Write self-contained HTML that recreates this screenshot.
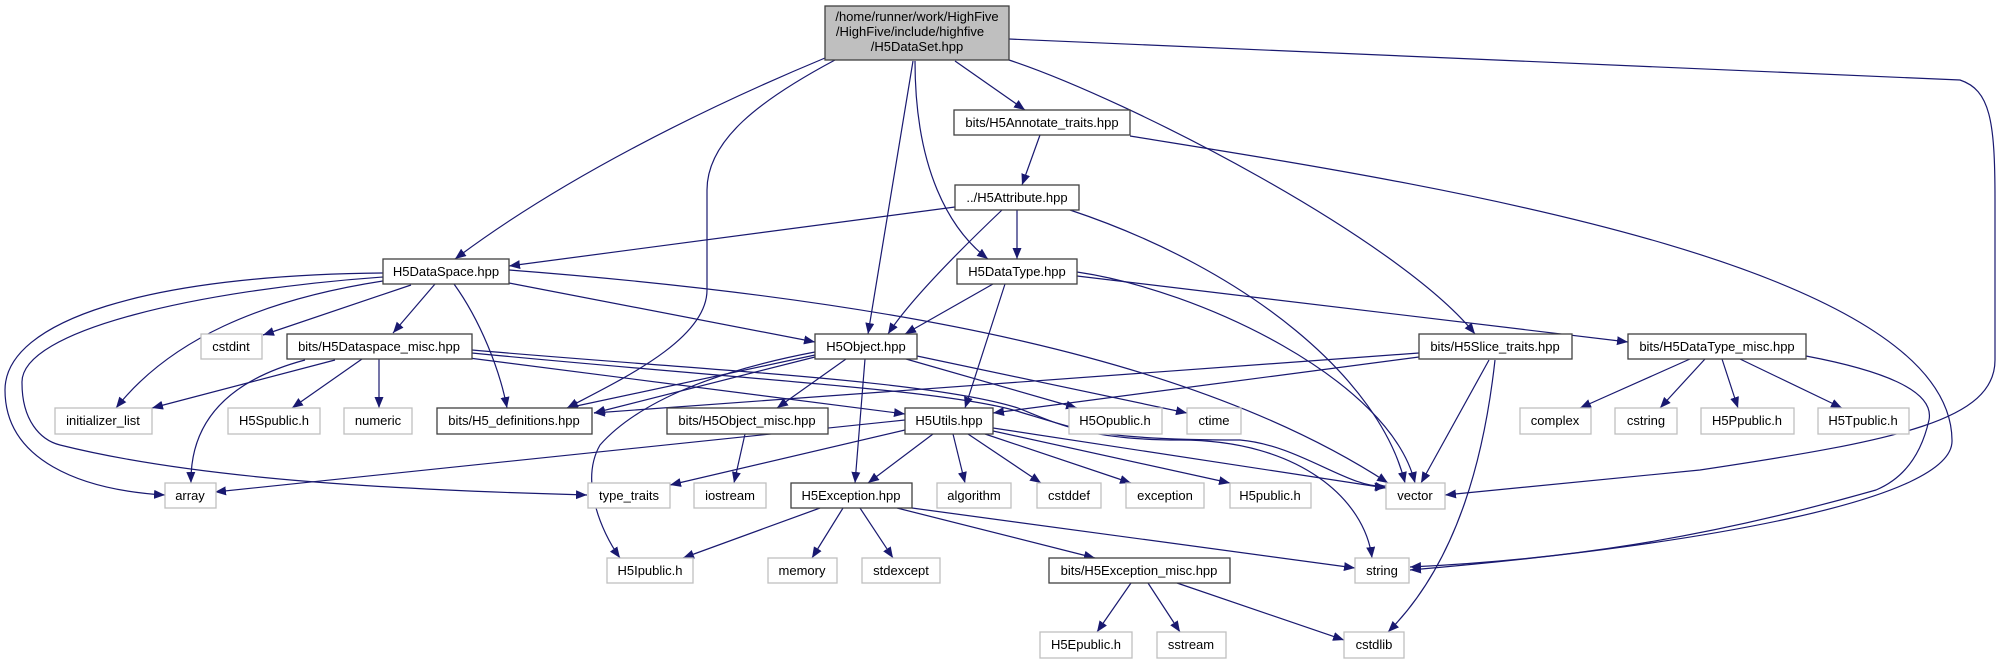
<!DOCTYPE html>
<html><head><meta charset="utf-8"><style>
html,body{margin:0;padding:0;background:#fff;}
svg{display:block;}
text{font-family:"Liberation Sans",Arial,sans-serif;font-size:13px;fill:#000;text-anchor:middle;}
.e{fill:none;stroke:#191970;stroke-width:1.2;marker-end:url(#a);}
.b{fill:#fff;stroke:#404040;stroke-width:1.3;}
.g{fill:#fff;stroke:#bfbfbf;stroke-width:1.3;}
</style></head><body>
<svg width="2002" height="664" viewBox="0 0 2002 664" xmlns="http://www.w3.org/2000/svg">
<defs><marker id="a" markerUnits="userSpaceOnUse" markerWidth="12" markerHeight="10" refX="11" refY="4.5" orient="auto"><path d="M0,0 L11,4.5 L0,9 Z" fill="#191970"/></marker></defs>
<!-- edges -->
<path class="e" d="M825,58 C700,110 560,180 455,259"/>
<path class="e" d="M835,60 C760,100 707,140 707,190 L707,290 C707,340 620,380 567,408"/>
<path class="e" d="M913,61 L868,334"/>
<path class="e" d="M915,61 C915,170 950,230 988,259"/>
<path class="e" d="M955,61 L1025,110"/>
<path class="e" d="M1009,60 C1130,100 1400,240 1475,334"/>
<path class="e" d="M1009,39 L1960,80 C1990,90 1995,120 1995,200 L1995,360 C1995,420 1900,440 1700,470 L1445,495"/>
<path class="e" d="M1040,135 L1022,185"/>
<path class="e" d="M1130,136 C1400,180 1950,260 1952,440 C1955,500 1700,545 1410,570"/>
<path class="e" d="M955,207 L509,266"/>
<path class="e" d="M1017,210 L1017,259"/>
<path class="e" d="M1002,210 C960,250 910,300 888,334"/>
<path class="e" d="M1070,210 C1250,270 1380,380 1405,483"/>
<path class="e" d="M993,284 L905,334"/>
<path class="e" d="M1005,284 L965,408"/>
<path class="e" d="M1077,272 C1200,290 1390,380 1415,483"/>
<path class="e" d="M1077,276 L1628,342"/>
<path class="e" d="M509,283 L815,342"/>
<path class="e" d="M509,270 C900,300 1200,360 1388,483"/>
<path class="e" d="M454,284 C480,320 500,370 507,408"/>
<path class="e" d="M435,284 L393,333"/>
<path class="e" d="M411,285 L263,335"/>
<path class="e" d="M383,281 C260,300 170,340 116,408"/>
<path class="e" d="M383,277 C200,290 20,330 22,383 C22,420 40,440 60,445 C200,480 400,490 587,495"/>
<path class="e" d="M383,273 C150,275 5,320 5,390 C5,460 80,490 165,495"/>
<path class="e" d="M335,360 L152,408"/>
<path class="e" d="M305,360 C230,380 190,420 191,483"/>
<path class="e" d="M362,359 L292,408"/>
<path class="e" d="M379,359 L379,408"/>
<path class="e" d="M469,358 L905,414"/>
<path class="e" d="M472,353 C750,380 950,390 1020,412 C1080,430 1100,440 1240,440 C1300,445 1350,490 1386,486"/>
<path class="e" d="M472,350 C700,370 930,380 1018,408 C1060,425 1090,440 1180,440 C1300,440 1365,500 1372,558"/>
<path class="e" d="M815,355 L567,408"/>
<path class="e" d="M815,357 L594,413"/>
<path class="e" d="M846,359 L777,408"/>
<path class="e" d="M865,359 L855,483"/>
<path class="e" d="M906,359 L1077,408"/>
<path class="e" d="M917,356 L1187,413"/>
<path class="e" d="M815,352 C720,370 640,400 600,445 C580,480 600,530 620,558"/>
<path class="e" d="M1419,353 L594,413"/>
<path class="e" d="M1419,357 L993,413"/>
<path class="e" d="M1489,360 L1421,483"/>
<path class="e" d="M1495,360 C1485,450 1460,560 1388,632"/>
<path class="e" d="M1690,359 L1580,408"/>
<path class="e" d="M1705,359 L1660,408"/>
<path class="e" d="M1722,359 L1738,408"/>
<path class="e" d="M1740,359 L1842,408"/>
<path class="e" d="M1806,356 C1880,370 1935,390 1929,420 C1920,460 1900,480 1876,490 C1700,540 1560,560 1410,567"/>
<path class="e" d="M905,420 L215,492"/>
<path class="e" d="M905,430 L670,485"/>
<path class="e" d="M933,434 L868,483"/>
<path class="e" d="M953,434 L965,483"/>
<path class="e" d="M968,434 L1041,483"/>
<path class="e" d="M985,434 L1131,483"/>
<path class="e" d="M993,431 L1230,483"/>
<path class="e" d="M993,428 L1386,488"/>
<path class="e" d="M745,434 L734,483"/>
<path class="e" d="M820,508 L683,558"/>
<path class="e" d="M843,508 L812,558"/>
<path class="e" d="M860,508 L893,558"/>
<path class="e" d="M897,508 L1095,558"/>
<path class="e" d="M912,508 L1355,568"/>
<path class="e" d="M1131,583 L1097,632"/>
<path class="e" d="M1148,583 L1180,632"/>
<path class="e" d="M1177,583 L1344,640"/>
<!-- nodes -->
<rect x="825" y="6" width="184" height="54" fill="#bfbfbf" stroke="#404040" stroke-width="1.3"/>
<text x="917" y="21">/home/runner/work/HighFive</text>
<text x="910" y="36">/HighFive/include/highfive</text>
<text x="917" y="51">/H5DataSet.hpp</text>
<rect class="b" x="954" y="110" width="176" height="25"/><text x="1042" y="127">bits/H5Annotate_traits.hpp</text>
<rect class="b" x="955" y="185" width="124" height="25"/><text x="1017" y="202">../H5Attribute.hpp</text>
<rect class="b" x="957" y="259" width="120" height="25"/><text x="1017" y="276">H5DataType.hpp</text>
<rect class="b" x="383" y="259" width="126" height="25"/><text x="446" y="276">H5DataSpace.hpp</text>
<rect class="g" x="201" y="334" width="61" height="25"/><text x="231" y="351">cstdint</text>
<rect class="b" x="287" y="334" width="185" height="25"/><text x="379" y="351">bits/H5Dataspace_misc.hpp</text>
<rect class="b" x="815" y="334" width="102" height="25"/><text x="866" y="351">H5Object.hpp</text>
<rect class="b" x="1419" y="334" width="153" height="25"/><text x="1495" y="351">bits/H5Slice_traits.hpp</text>
<rect class="b" x="1628" y="334" width="178" height="25"/><text x="1717" y="351">bits/H5DataType_misc.hpp</text>
<rect class="g" x="55" y="408" width="97" height="26"/><text x="103" y="425">initializer_list</text>
<rect class="g" x="228" y="408" width="92" height="26"/><text x="274" y="425">H5Spublic.h</text>
<rect class="g" x="344" y="408" width="68" height="26"/><text x="378" y="425">numeric</text>
<rect class="b" x="437" y="408" width="155" height="26"/><text x="514" y="425">bits/H5_definitions.hpp</text>
<rect class="b" x="667" y="408" width="161" height="26"/><text x="747" y="425">bits/H5Object_misc.hpp</text>
<rect class="b" x="905" y="408" width="88" height="26"/><text x="949" y="425">H5Utils.hpp</text>
<rect class="g" x="1069" y="408" width="93" height="26"/><text x="1115" y="425">H5Opublic.h</text>
<rect class="g" x="1187" y="408" width="54" height="26"/><text x="1214" y="425">ctime</text>
<rect class="g" x="1520" y="408" width="71" height="26"/><text x="1555" y="425">complex</text>
<rect class="g" x="1615" y="408" width="62" height="26"/><text x="1646" y="425">cstring</text>
<rect class="g" x="1701" y="408" width="93" height="26"/><text x="1747" y="425">H5Ppublic.h</text>
<rect class="g" x="1818" y="408" width="91" height="26"/><text x="1863" y="425">H5Tpublic.h</text>
<rect class="g" x="165" y="483" width="51" height="25"/><text x="190" y="500">array</text>
<rect class="g" x="588" y="483" width="82" height="25"/><text x="629" y="500">type_traits</text>
<rect class="g" x="694" y="483" width="72" height="25"/><text x="730" y="500">iostream</text>
<rect class="b" x="791" y="483" width="121" height="25"/><text x="851" y="500">H5Exception.hpp</text>
<rect class="g" x="937" y="483" width="74" height="25"/><text x="974" y="500">algorithm</text>
<rect class="g" x="1037" y="483" width="64" height="25"/><text x="1069" y="500">cstddef</text>
<rect class="g" x="1126" y="483" width="78" height="25"/><text x="1165" y="500">exception</text>
<rect class="g" x="1230" y="483" width="81" height="25"/><text x="1270" y="500">H5public.h</text>
<rect class="g" x="1386" y="483" width="59" height="26"/><text x="1415" y="500">vector</text>
<rect class="g" x="607" y="558" width="86" height="25"/><text x="650" y="575">H5Ipublic.h</text>
<rect class="g" x="768" y="558" width="69" height="25"/><text x="802" y="575">memory</text>
<rect class="g" x="862" y="558" width="78" height="25"/><text x="901" y="575">stdexcept</text>
<rect class="b" x="1049" y="558" width="181" height="25"/><text x="1139" y="575">bits/H5Exception_misc.hpp</text>
<rect class="g" x="1355" y="558" width="54" height="25"/><text x="1382" y="575">string</text>
<rect class="g" x="1040" y="632" width="92" height="26"/><text x="1086" y="649">H5Epublic.h</text>
<rect class="g" x="1157" y="632" width="69" height="26"/><text x="1191" y="649">sstream</text>
<rect class="g" x="1344" y="632" width="60" height="26"/><text x="1374" y="649">cstdlib</text>
</svg>
</body></html>
